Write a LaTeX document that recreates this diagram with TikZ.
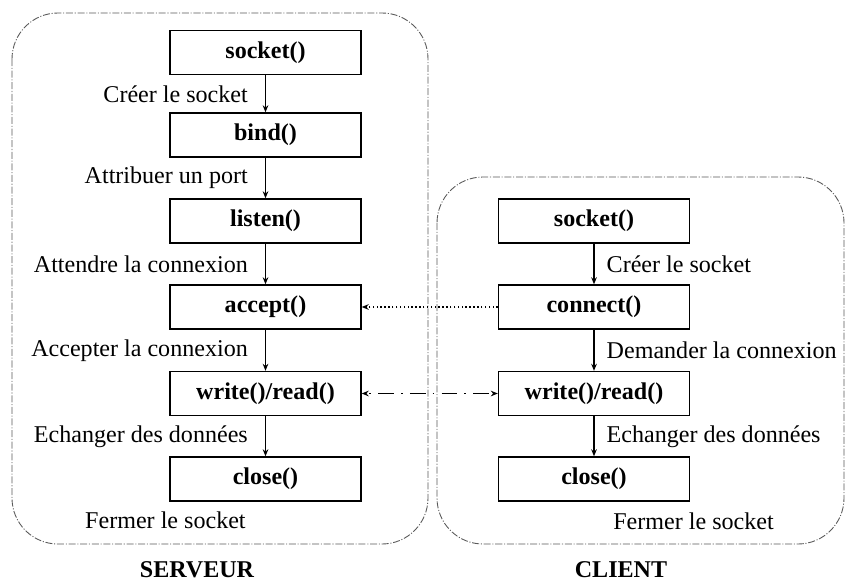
\documentclass[tikz,border=0pt]{standalone}
\usepackage{fontspec}
\setmainfont{Liberation Serif}
\usetikzlibrary{arrows.meta,positioning}
\tikzset{
  fct/.style={draw, line width=0.8pt, minimum width=3.82cm, minimum height=0.88cm, inner sep=0pt, font=\fontsize{13.7}{16}\selectfont\bfseries},
  txt/.style={inner sep=0pt, font=\fontsize{13.7}{16}\selectfont},
  titre/.style={inner sep=0pt, font=\fontsize{13.7}{16}\selectfont\bfseries},
  zone/.style={draw=black!65, line width=0.5pt, rounded corners=0.92cm, dash pattern=on 4pt off 1pt on 0.6pt off 1pt},
  fl/.style={-{Stealth[length=4pt,width=3.2pt]}, line width=0.8pt}
}
\begin{document}
\begin{tikzpicture}[x=0.02cm,y=-0.02cm]
    \useasboundingbox (0,0) rectangle (847,581);
    \draw[zone] (12,13) rectangle (428,544);
    \draw[zone] (437,177) rectangle (844,544);
    \node[fct] (ssocket) at (265.5,52.5) {socket()};
    \node[fct] (sbind) at (265.5,135) {bind()};
    \node[fct] (slisten) at (265.5,221) {listen()};
    \node[fct] (saccept) at (265.5,307) {accept()};
    \node[fct] (swrite) at (265.5,393.5) {write()/read()};
    \node[fct] (sclose) at (265.5,479) {close()};
    \node[fct] (csocket) at (594,221) {socket()};
    \node[fct] (cconnect) at (594,307) {connect()};
    \node[fct] (cwrite) at (594,393.5) {write()/read()};
    \node[fct] (cclose) at (594,479) {close()};
    \draw[fl] (ssocket) -- node[txt,left=0.34cm] {Créer le socket} (sbind);
    \draw[fl] (sbind) -- node[txt,left=0.34cm] {Attribuer un port} (slisten);
    \draw[fl] (slisten) -- node[txt,left=0.34cm] {Attendre la connexion} (saccept);
    \draw[fl] (saccept) -- node[txt,left=0.34cm] {Accepter la connexion} (swrite);
    \draw[fl] (swrite) -- node[txt,left=0.34cm] {Echanger des données} (sclose);
    \draw[fl] (csocket) -- node[txt,right=0.24cm] {Créer le socket} (cconnect);
    \draw[fl] (cconnect) -- node[txt,right=0.24cm] {Demander la connexion} (cwrite);
    \draw[fl] (cwrite) -- node[txt,right=0.24cm] {Echanger des données} (cclose);
    \draw[fl, line width=0.6pt, dash pattern=on 0.8pt off 1.4pt] (cconnect) -- (saccept);
    \draw[fl, {Stealth[length=4pt,width=3.2pt]}-{Stealth[length=4pt,width=3.2pt]}, dash pattern=on 9pt off 4pt on 1pt off 4pt, dash phase=-7pt] (swrite) -- (cwrite);
    \node[txt, anchor=east] (sfermer) at (246,520) {Fermer le socket};
    \node[txt, anchor=west] (cfermer) at (613,521) {Fermer le socket};
    \node[titre] (serveur) at (197,570) {SERVEUR};
    \node[titre] (client) at (621,570) {CLIENT};
\end{tikzpicture}
\end{document}
